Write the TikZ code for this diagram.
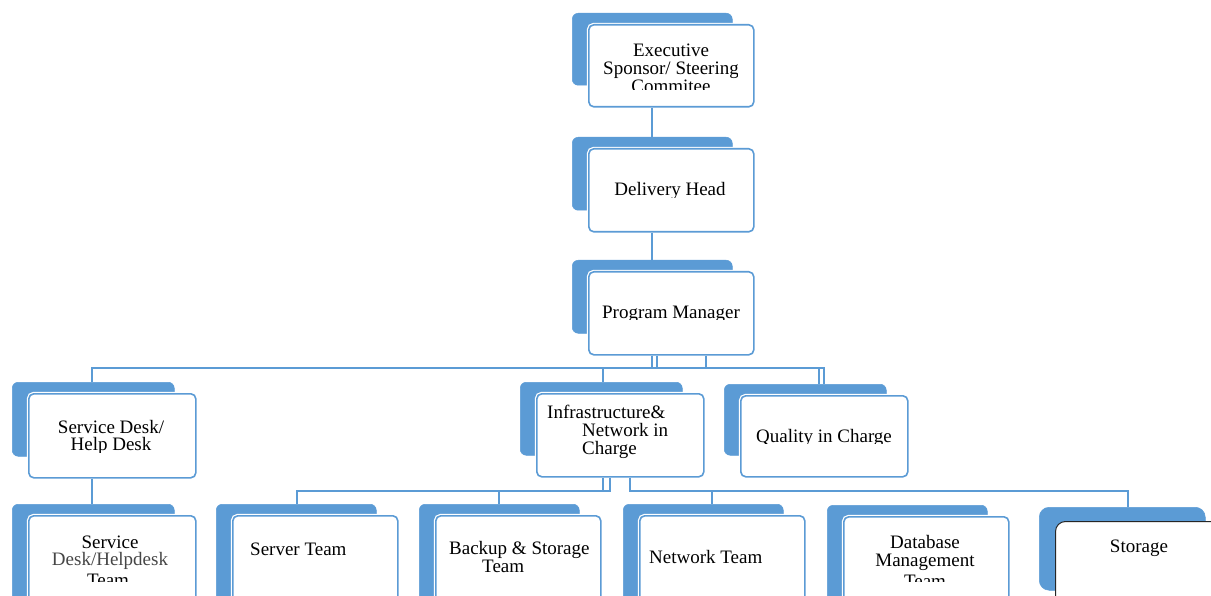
\documentclass[tikz,border=0pt]{standalone}
\usepackage{fontspec}
\setmainfont{Liberation Serif}
\usetikzlibrary{calc}
\definecolor{oblue}{RGB}{91,155,213}
\definecolor{dgray}{RGB}{70,70,70}
\tikzset{
  backbox/.style={fill=oblue, draw=oblue, rounded corners=6pt, line width=0.5pt, inner sep=0pt},
  frontbox/.style={fill=white, draw=oblue, line width=1.6pt, rounded corners=5pt, inner sep=0pt,
                   preaction={draw=white, line width=4pt}},
  stback/.style={fill=oblue, draw=oblue, rounded corners=10pt, line width=0.5pt, inner sep=0pt},
  stfront/.style={fill=white, draw=black!85, line width=1pt, rounded corners=10pt, inner sep=0pt},
  conn/.style={draw=oblue, line width=1.5pt},
  lbl/.style={inner sep=0pt, font=\fontsize{19}{17.5}\selectfont, text=black},
}
\newcommand\orgbox[5]{%
  \node[backbox, anchor=north west, minimum width={#4-#2-5}, minimum height={#5-#3-10}] (#1B) at ({#2-16},{#3-11}) {};
  \node[frontbox, anchor=north west, minimum width={#4-#2}, minimum height={#5-#3}] (#1) at (#2,#3) {};
}
\begin{document}
\begin{tikzpicture}[x=1pt,y=-1pt]
\useasboundingbox (0,0) rectangle (1211,596);
\clip (0,0) rectangle (1211,596);

% column / row helper coordinates
\coordinate (h1) at (0,368);
\coordinate (h2) at (0,491);
\coordinate (xa) at (652,0);
\coordinate (xb) at (657,0);
\coordinate (xc) at (706,0);
\coordinate (xsd) at (92,0);
\coordinate (xin) at (603,0);
\coordinate (xq1) at (819,0);
\coordinate (xq2) at (824,0);
\coordinate (xi1) at (603,0);
\coordinate (xi2) at (610,0);
\coordinate (xi3) at (630,0);
\coordinate (xsv) at (297,0);
\coordinate (xbk) at (499,0);
\coordinate (xnw) at (712,0);
\coordinate (xst) at (1128,0);

% boxes
\orgbox{exec}{588}{24}{753}{106}
\orgbox{deliv}{588}{148}{753}{231}
\orgbox{pm}{588}{271}{753}{354}
\orgbox{sdesk}{28}{393}{195}{477}
\orgbox{infra}{536}{393}{703}{476}
\orgbox{qual}{740}{395}{907}{476}
\orgbox{sdteam}{28}{515}{195}{625}
\orgbox{server}{232}{515}{397}{625}
\orgbox{backup}{435}{515}{600}{625}
\orgbox{network}{639}{515}{804}{625}
\orgbox{db}{843}{516}{1008}{625}
\node[stback, anchor=north west, minimum width=166, minimum height=83] (storageB) at (1039,507) {};
\node[stfront, anchor=north west, minimum width=175, minimum height=120] (storage) at (1055,521) {};

% connectors
\draw[conn] (exec.south -| xa) -- (delivB.north -| xa);
\draw[conn] (deliv.south -| xa) -- (pmB.north -| xa);
\draw[conn] (pm.south -| xa) -- (xa |- h1) -- (xsd |- h1) -- (sdeskB.north -| xsd);
\draw[conn] (pm.south -| xb) -- (xb |- h1) -- (xin |- h1) -- (infraB.north -| xin);
\draw[conn] (pm.south -| xc) -- (xc |- h1) -- (xq2 |- h1) -- (qualB.north -| xq2);
\draw[conn] (pm.south -| xb) -- (xb |- h1) -- (xq1 |- h1) -- (qualB.north -| xq1);
\draw[conn] (sdesk.south -| xsd) -- (sdteamB.north -| xsd);
\draw[conn] (infra.south -| xi1) -- (xi1 |- h2) -- (xsv |- h2) -- (serverB.north -| xsv);
\draw[conn] (infra.south -| xi2) -- (xi2 |- h2) -- (xbk |- h2) -- (backupB.north -| xbk);
\draw[conn] (infra.south -| xi3) -- (xi3 |- h2) -- (xnw |- h2) -- (networkB.north -| xnw);
\draw[conn] (infra.south -| xi3) -- (xi3 |- h2) -- (xst |- h2) -- (storageB.north -| xst);

% labels
\begin{scope}
  \clip (590,26) rectangle (737,90);
  \node[lbl, anchor=base] (tExec1) at (671,57) {Executive};
  \node[lbl, anchor=base] (tExec2) at (671,75) {Sponsor/ Steering};
  \node[lbl, anchor=base] (tExec3) at (671,93) {Commitee};
\end{scope}
\begin{scope}
  \clip (590,150) rectangle (751,198);
  \node[lbl, anchor=base] (tDeliv) at (670,196) {Delivery Head};
\end{scope}
\begin{scope}
  \clip (590,273) rectangle (740,320);
  \node[lbl, anchor=base] (tPm) at (671,319) {Program Manager};
\end{scope}
\begin{scope}
  \clip (30,395) rectangle (193,452);
  \node[lbl, anchor=base] (tSd1) at (111,433) {Service Desk/};
  \node[lbl, anchor=base] (tSd2) at (111,450) {Help Desk};
\end{scope}
\node[lbl, anchor=base west] (tIn1) at (547,418) {Infrastructure\&};
\node[lbl, anchor=base west] (tIn2) at (582,436) {Network in};
\node[lbl, anchor=base west] (tIn3) at (582,454) {Charge};
\begin{scope}
  \clip (742,397) rectangle (890,443);
  \node[lbl, anchor=base] (tQual) at (824,442) {Quality in Charge};
\end{scope}
\begin{scope}
  \clip (30,519) rectangle (193,581);
  \node[lbl, anchor=base] (tSt1) at (110,548) {Service};
  \node[lbl, anchor=base, text=dgray] (tSt2) at (110,565) {Desk/Helpdesk};
  \node[lbl, anchor=base] (tSt3) at (108,586) {Team};
\end{scope}
\node[lbl, anchor=base west] (tServer) at (250,555) {Server Team};
\node[lbl, anchor=base west] (tBk1) at (449,554) {Backup \& Storage};
\node[lbl, anchor=base west] (tBk2) at (482,572) {Team};
\node[lbl, anchor=base west] (tNet) at (649,563) {Network Team};
\begin{scope}
  \clip (845,518) rectangle (1006,581);
  \node[lbl, anchor=base] (tDb1) at (925,548) {Database};
  \node[lbl, anchor=base] (tDb2) at (925,566) {Management};
  \node[lbl, anchor=base] (tDb3) at (925,587) {Team};
\end{scope}
\node[lbl, anchor=base] (tStor) at (1139,552) {Storage};
\end{tikzpicture}
\end{document}
